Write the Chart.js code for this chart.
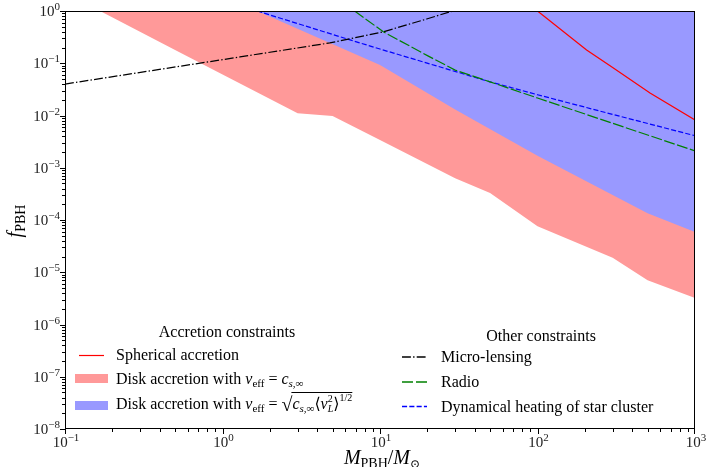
<!DOCTYPE html>
<html>
<head>
<meta charset="utf-8">
<script src="https://cdn.jsdelivr.net/npm/chart.js@4"></script>
<style>
  html, body { margin: 0; padding: 0; background: #fff; }
</style>
</head>
<body>
<canvas id="myChart" width="706" height="467"></canvas>
<script>
// values (M in solar masses, f_PBH)
var massRedFill = [0.167, 0.5, 3, 5, 10, 30, 50, 100, 300, 500, 1000];
var fRedFill = [1, 0.18, 0.011, 0.0098, 0.0034, 0.00063, 0.00033, 0.000076, 0.000019, 0.000007, 0.0000032];
var massBlueFill = [1.66, 10, 30, 100, 500, 1000];
var fBlueFill = [1, 0.093, 0.013, 0.0017, 0.000135, 0.000059];
var massSpherical = [100, 205, 300, 518, 1000];
var fSpherical = [1, 0.18, 0.083, 0.027, 0.0082];
var massLensing = [0.1, 1.29, 4.8, 10.5, 20, 29];
var fLensing = [0.04, 0.132, 0.245, 0.4, 0.71, 1];
var massRadio = [6.9, 10.5, 20, 30, 50, 100, 300, 1000];
var fRadio = [1, 0.4, 0.14, 0.074, 0.044, 0.0216, 0.0071, 0.0021];
var massHeating = [1.66, 6.46, 10, 50, 100, 300, 1000];
var fHeating = [1, 0.28, 0.187, 0.044, 0.025, 0.0105, 0.0041];

var xTickExps = [-1, 0, 1, 2, 3];
var yTickExps = [-8, -7, -6, -5, -4, -3, -2, -1, 0];

var SERIF = '"Liberation Serif", "DejaVu Serif", "DejaVu Sans", serif';
var GREEN = '#008000';

function pts(xs, ys) {
    return xs.map(function (x, i) { return { x: x, y: ys[i] }; });
}

function expText(e) {
    return e < 0 ? '\u2212' + (-e) : String(e);
}

// draw a list of text pieces one after another, returns end x
function runs(ctx, x, y, parts, measureOnly) {
    var maxW = 0;
    parts.forEach(function (p) {
        ctx.font = (p.i ? 'italic ' : '') + (p.s || 16) + 'px ' + SERIF;
        var w = ctx.measureText(p.t).width;
        if (!measureOnly) ctx.fillText(p.t, x, y + (p.dy || 0));
        if (p.stack) {
            maxW = Math.max(maxW, w);
        } else {
            x += Math.max(w, maxW);
            maxW = 0;
        }
    });
    return x;
}

function sample(ctx, color, dash, y) {
    ctx.strokeStyle = color;
    ctx.lineWidth = 1.4;
    ctx.setLineDash(dash);
    ctx.beginPath(); ctx.moveTo(402, y); ctx.lineTo(427, y); ctx.stroke();
    ctx.setLineDash([]);
}

var axesPlugin = {
    id: 'axesPlugin',
    afterDraw: function (chart) {
        var ctx = chart.ctx;
        var a = chart.chartArea;
        var xs = chart.scales.x, ys = chart.scales.y;
        ctx.save();
        ctx.strokeStyle = '#000';
        ctx.fillStyle = '#000';
        ctx.lineWidth = 1;
        ctx.strokeRect(Math.round(a.left) + 0.5, Math.round(a.top) + 0.5,
            Math.round(a.right - a.left) - 1, Math.round(a.bottom - a.top) - 1);

        // ticks
        ctx.beginPath();
        var e, k, v, p;
        for (e = -1; e <= 2; e++) {
            for (k = 1; k <= 9; k++) {
                v = k * Math.pow(10, e);
                p = Math.round(xs.getPixelForValue(v)) + 0.5;
                ctx.moveTo(p, a.bottom);
                ctx.lineTo(p, a.bottom + (k === 1 ? 5 : 3));
            }
        }
        p = Math.round(xs.getPixelForValue(1000)) - 0.5;
        ctx.moveTo(p, a.bottom); ctx.lineTo(p, a.bottom + 5);
        for (e = -8; e <= -1; e++) {
            for (k = 1; k <= 9; k++) {
                v = k * Math.pow(10, e);
                p = Math.round(ys.getPixelForValue(v)) + 0.5;
                ctx.moveTo(a.left, p);
                ctx.lineTo(a.left - (k === 1 ? 5 : 3), p);
            }
        }
        p = Math.round(ys.getPixelForValue(1)) + 0.5;
        ctx.moveTo(a.left, p); ctx.lineTo(a.left - 5, p);
        ctx.stroke();

        // tick labels
        ctx.fillStyle = '#222';
        xTickExps.forEach(function (e) {
            var parts = [{ t: '10', s: 15 }, { t: expText(e), s: 11, dy: -6 }];
            var w = runs(ctx, 0, 0, parts, true);
            var px = xs.getPixelForValue(Math.pow(10, e));
            runs(ctx, px - w / 2 + 1, 447, parts);
        });
        yTickExps.forEach(function (e) {
            var parts = [{ t: '10', s: 15 }, { t: expText(e), s: 11, dy: -6 }];
            var w = runs(ctx, 0, 0, parts, true);
            var py = ys.getPixelForValue(Math.pow(10, e));
            runs(ctx, 60 - w, py + 5, parts);
        });

        // axis titles
        ctx.fillStyle = '#000';
        var xt = [{ t: 'M', i: true, s: 20 }, { t: 'PBH', s: 14, dy: 4 }, { t: '/', s: 20 },
            { t: 'M', i: true, s: 20 }, { t: '\u2299', s: 12, dy: 4 }];
        var wx = runs(ctx, 0, 0, xt, true);
        runs(ctx, 382 - wx / 2, 464, xt);

        var yt = [{ t: 'f', i: true, s: 20 }, { t: 'PBH', s: 14, dy: 4 }];
        var wy = runs(ctx, 0, 0, yt, true);
        ctx.save();
        ctx.translate(21, 221);
        ctx.rotate(-Math.PI / 2);
        runs(ctx, -wy / 2, 0, yt);
        ctx.restore();

        // legend: accretion constraints
        ctx.font = '16px ' + SERIF;
        ctx.textAlign = 'center';
        ctx.fillText('Accretion constraints', 227, 337);
        ctx.fillText('Other constraints', 541, 341);
        ctx.textAlign = 'left';

        ctx.strokeStyle = 'red';
        ctx.lineWidth = 1.2;
        ctx.beginPath(); ctx.moveTo(79, 355.5); ctx.lineTo(104, 355.5); ctx.stroke();
        runs(ctx, 116, 360, [{ t: 'Spherical accretion' }]);

        ctx.fillStyle = '#ff9999';
        ctx.fillRect(75, 374, 33, 9);
        ctx.fillStyle = '#000';
        runs(ctx, 116, 384, [{ t: 'Disk accretion with ' }, { t: 'v', i: true }, { t: 'eff', s: 11, dy: 3 },
            { t: ' = ' }, { t: 'c', i: true }, { t: 's,\u221e', s: 11, i: true, dy: 3 }]);

        ctx.fillStyle = '#9999ff';
        ctx.fillRect(75, 401, 33, 9);
        ctx.fillStyle = '#000';
        var sx = runs(ctx, 116, 409, [{ t: 'Disk accretion with ' }, { t: 'v', i: true }, { t: 'eff', s: 11, dy: 3 },
            { t: ' = ' }, { t: '\u221a', s: 20, dy: 2 }]);
        var ex = runs(ctx, sx, 409, [{ t: 'c', i: true }, { t: 's,\u221e', s: 11, i: true, dy: 3 },
            { t: '\u27e8' }, { t: 'v', i: true }, { t: '2', s: 10, dy: -7, stack: true }, { t: 'L', s: 10, i: true, dy: 3 },
            { t: '\u27e9' }, { t: '1/2', s: 10, dy: -8 }]);
        ctx.strokeStyle = '#000';
        ctx.lineWidth = 1;
        ctx.beginPath(); ctx.moveTo(sx - 1, 392.5); ctx.lineTo(ex, 392.5); ctx.stroke();

        // legend: other constraints
        sample(ctx, '#000', [8.9, 2.2, 1.4, 2.2], 357);
        sample(ctx, GREEN, [11, 3], 382);
        sample(ctx, 'blue', [5.1, 2.2], 406.5);
        ctx.fillStyle = '#000';
        runs(ctx, 441, 362, [{ t: 'Micro-lensing' }]);
        runs(ctx, 441, 387, [{ t: 'Radio' }]);
        runs(ctx, 441, 412, [{ t: 'Dynamical heating of star cluster' }]);
        ctx.restore();
    }
};

var ctx = document.getElementById('myChart').getContext('2d');
var myChart = new Chart(ctx, {
    type: 'line',
    data: {
        datasets: [{
            // blue band first so the filler paints it over the red one
            label: 'Disk accretion (sqrt)',
            data: pts(massBlueFill, fBlueFill),
            borderWidth: 0,
            backgroundColor: '#9999ff',
            fill: 'end'
        }, {
            label: 'Disk accretion (cs)',
            data: pts(massRedFill, fRedFill),
            borderWidth: 0,
            backgroundColor: '#ff9999',
            fill: 'end'
        }, {
            label: 'Spherical accretion',
            data: pts(massSpherical, fSpherical),
            borderColor: 'red',
            borderWidth: 1.2,
            fill: false
        }, {
            label: 'Micro-lensing',
            data: pts(massLensing, fLensing),
            borderColor: '#000',
            borderWidth: 1.2,
            borderDash: [8.9, 2.2, 1.4, 2.2],
            fill: false
        }, {
            label: 'Radio',
            data: pts(massRadio, fRadio),
            borderColor: GREEN,
            borderWidth: 1.2,
            borderDash: [11, 2.5],
            fill: false
        }, {
            label: 'Dynamical heating of star cluster',
            data: pts(massHeating, fHeating),
            borderColor: 'blue',
            borderWidth: 1.2,
            borderDash: [5.1, 2.2],
            fill: false
        }]
    },
    options: {
        responsive: false,
        animation: false,
        devicePixelRatio: 1,
        layout: { padding: { left: 65, right: 11, top: 11, bottom: 38 } },
        elements: { point: { radius: 0 }, line: { tension: 0 } },
        plugins: {
            filler: { drawTime: 'beforeDatasetsDraw' },
            legend: { display: false },
            tooltip: { enabled: false }
        },
        scales: {
            x: { type: 'logarithmic', min: 0.1, max: 1000, display: false },
            y: { type: 'logarithmic', min: 1e-8, max: 1, display: false }
        }
    },
    plugins: [axesPlugin]
});
</script>
</body>
</html>
